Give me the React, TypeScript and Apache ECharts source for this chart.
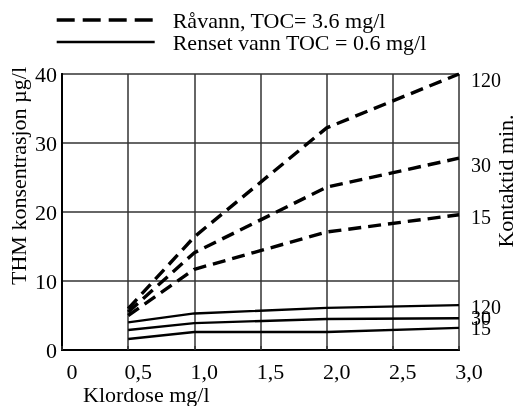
import React, { useEffect, useRef } from "react";
import * as echarts from "echarts";

const xValues = [0.5, 1.0, 2.0, 3.0];
const xTickLabels = ["0", "0,5", "1,0", "1,5", "2,0", "2,5", "3,0"];
const yTickLabels = ["0", "10", "20", "30", "40"];

const rawName = "Råvann, TOC= 3.6 mg/l";
const cleanName = "Renset vann TOC = 0.6 mg/l";

const raw120 = [6.0, 16.4, 32.2, 40.0];
const raw30 = [5.5, 14.1, 23.6, 27.8];
const raw15 = [5.0, 11.7, 17.1, 19.6];
const clean120 = [4.0, 5.3, 6.1, 6.5];
const clean30 = [2.9, 3.9, 4.5, 4.6];
const clean15 = [1.6, 2.6, 2.6, 3.2];

const rawLabels = ["120", "30", "15"];
const cleanLabels = ["120", "30", "15"];

const FONT = "'Liberation Serif', 'Times New Roman', Times, 'DejaVu Serif', serif";

export default function App() {
  const ref = useRef<HTMLDivElement>(null);
  useEffect(() => {
    if (!ref.current) return;
    const chart = echarts.init(ref.current, undefined, { renderer: "svg" });
    const pair = (vals: number[]) => vals.map((v, i) => [xValues[i], v]);
    const mk = (
      name: string,
      vals: number[],
      label: string,
      dashed: boolean,
      dy: number
    ) => ({
      type: "line",
      name,
      data: pair(vals),
      symbol: "none",
      showSymbol: false,
      lineStyle: {
        color: "#000",
        width: dashed ? 3.4 : 2.4,
        type: dashed ? [13, 7] : "solid",
      },
      itemStyle: { color: "#000" },
      endLabel: {
        show: true,
        formatter: label,
        color: "#000",
        fontFamily: FONT,
        fontSize: 20,
        distance: 12,
        offset: [0, dy],
      },
    });
    chart.setOption({
      animation: false,
      textStyle: { fontFamily: FONT, color: "#000" },
      legend: {
        orient: "vertical",
        left: 55,
        top: 9,
        padding: 0,
        itemWidth: 98,
        itemHeight: 14,
        itemGap: 0,
        data: [
          { name: rawName, lineStyle: { width: 3.4, type: [18, 8] } },
          { name: cleanName, lineStyle: { width: 2.4, type: "solid" } },
        ],
        itemStyle: { opacity: 0, borderWidth: 0 },
        textStyle: {
          fontFamily: FONT,
          fontSize: 22,
          color: "#000",
          lineHeight: 22,
          padding: [0, 0, 0, 13],
        },
      },
      grid: { left: 62, right: 58, top: 74, bottom: 56 },
      xAxis: [
        {
          type: "value",
          min: 0,
          max: 3,
          interval: 0.5,
          axisLine: { show: true, lineStyle: { color: "#000", width: 2 } },
          axisTick: { show: false },
          splitLine: { show: true, lineStyle: { color: "#333", width: 1.5 } },
          axisLabel: {
            fontFamily: FONT,
            fontSize: 22,
            color: "#000",
            margin: 10,
            padding: [0, 0, 0, 20],
            formatter: (v: number) => xTickLabels[Math.round(v / 0.5)] ?? "",
          },
        },
        {
          type: "value",
          position: "top",
          min: 0,
          max: 3,
          interval: 0.5,
          axisLine: { show: true, lineStyle: { color: "#000", width: 2 } },
          axisTick: { show: true, length: 4, lineStyle: { color: "#333", width: 1.5 } },
          axisLabel: { show: false },
          splitLine: { show: false },
        },
      ],
      yAxis: [
        {
          type: "value",
          min: 0,
          max: 40,
          interval: 10,
          axisLine: { show: true, lineStyle: { color: "#000", width: 2 } },
          axisTick: { show: false },
          splitLine: { show: true, lineStyle: { color: "#333", width: 1.5 } },
          axisLabel: {
            fontFamily: FONT,
            fontSize: 22,
            color: "#000",
            margin: 5,
            formatter: (v: number) => yTickLabels[Math.round(v / 10)] ?? "",
          },
        },
        {
          type: "value",
          position: "right",
          min: 0,
          max: 40,
          interval: 10,
          axisLine: { show: true, lineStyle: { color: "#000", width: 2 } },
          axisTick: { show: false },
          axisLabel: { show: false },
          splitLine: { show: false },
        },
      ],
      series: [
        mk(rawName, raw120, rawLabels[0], true, 6),
        mk(rawName, raw30, rawLabels[1], true, 7),
        mk(rawName, raw15, rawLabels[2], true, 2),
        mk(cleanName, clean120, cleanLabels[0], false, 2),
        mk(cleanName, clean30, cleanLabels[1], false, 0),
        mk(cleanName, clean15, cleanLabels[2], false, 0),
      ],
      graphic: [
        {
          type: "text",
          x: 18,
          y: 176,
          rotation: Math.PI / 2,
          style: {
            text: "THM konsentrasjon µg/l",
            fontFamily: FONT,
            fontSize: 22,
            fill: "#000",
            align: "center",
            verticalAlign: "middle",
          },
        },
        {
          type: "text",
          x: 505,
          y: 181,
          rotation: Math.PI / 2,
          style: {
            text: "Kontaktid min.",
            fontFamily: FONT,
            fontSize: 22,
            fill: "#000",
            align: "center",
            verticalAlign: "middle",
          },
        },
        {
          type: "text",
          x: 83,
          y: 394,
          style: {
            text: "Klordose mg/l",
            fontFamily: FONT,
            fontSize: 22,
            fill: "#000",
            align: "left",
            verticalAlign: "middle",
          },
        },
      ],
    });
    return () => chart.dispose();
  }, []);
  return (
    <div
      ref={ref}
      style={{ position: "fixed", left: 0, top: 0, width: 517, height: 406 }}
    />
  );
}
